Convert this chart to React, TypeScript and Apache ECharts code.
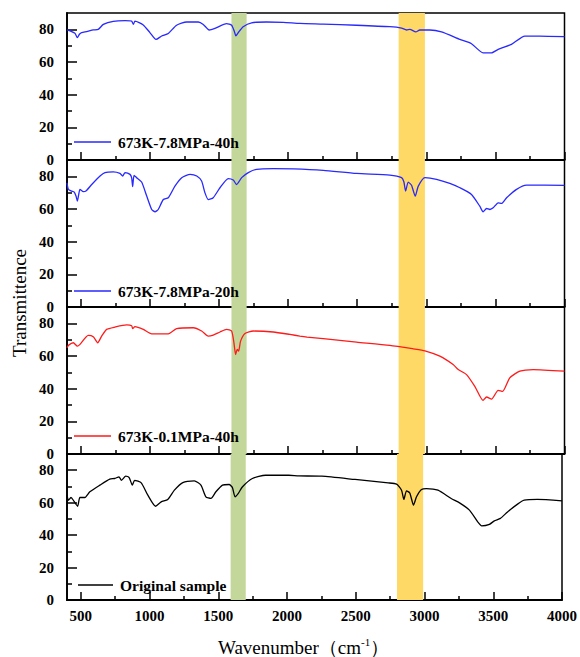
import React, { useEffect, useRef } from "react";
import * as echarts from "echarts";

const seriesNames = ["673K-7.8MPa-40h", "673K-7.8MPa-20h", "673K-0.1MPa-40h", "Original sample"];
const seriesColors = ["#2828ff", "#2828ff", "#ff1a1a", "#000000"];

const spec40h: [number, number][] = [
  [400, 79.6], [434, 78.6], [458, 77.5], [475, 74.9], [490, 77], [506, 78], [542, 78.6], [590, 79.6], [626, 80],
  [663, 83], [735, 84.9], [820, 85.3], [868, 85], [880, 83], [892, 85], [952, 82.7], [1000, 78], [1044, 73.8],
  [1085, 75.9], [1133, 77.5], [1193, 82.5], [1266, 84.5], [1350, 84.5], [1386, 83], [1429, 79.6], [1470, 80.6],
  [1555, 83.5], [1591, 82.5], [1610, 79], [1622, 76], [1639, 78], [1675, 81.6], [1736, 84], [1844, 84.5],
  [1965, 84.3], [2085, 83.6], [2254, 83.2], [2495, 82.5], [2736, 81.6], [2821, 80.8], [2857, 79.6], [2881, 80],
  [2924, 78.4], [2953, 79.6], [3026, 79.6], [3110, 78.4], [3243, 73.8], [3327, 71.2], [3411, 65.6], [3472, 65.6],
  [3520, 67.7], [3616, 70.8], [3713, 75.9], [3821, 75.9], [4000, 75.5],
];

const spec20h: [number, number][] = [
  [400, 76], [410, 72], [434, 71], [451, 70.5], [465, 68], [475, 64.8], [485, 69], [494, 72], [518, 70.6],
  [537, 71], [579, 75], [639, 80.2], [675, 82.3], [735, 82.7], [783, 81.8], [803, 80.2], [820, 82.3], [856, 81.2],
  [868, 79], [875, 73.7], [885, 80.6], [904, 79.2], [940, 76.5], [977, 67.9], [1013, 59.7], [1037, 58.3],
  [1060, 59.7], [1097, 65.8], [1133, 66.9], [1181, 74], [1230, 79.2], [1291, 81.2], [1339, 80.2], [1374, 77.1],
  [1398, 70], [1422, 65.8], [1458, 66.9], [1507, 73], [1567, 78.6], [1603, 77.7], [1627, 75], [1664, 79.2],
  [1712, 82.3], [1772, 84.3], [1893, 84.7], [2041, 84.6], [2254, 83.7], [2495, 81.8], [2736, 80.8], [2821, 79.2],
  [2838, 76.5], [2850, 71], [2869, 76.5], [2893, 74.5], [2920, 67.9], [2942, 74], [2990, 79.2], [3074, 78.2],
  [3170, 75.7], [3243, 73], [3327, 68.9], [3387, 61.7], [3411, 58.3], [3436, 60.3], [3460, 59.7], [3484, 60.7],
  [3520, 63.8], [3544, 63.4], [3581, 66.9], [3653, 72], [3725, 74.6], [4000, 74.5],
];

const spec01MPa: [number, number][] = [
  [400, 65], [410, 66.5], [446, 68.1], [475, 66], [494, 67.1], [554, 72.6], [590, 71.8], [622, 68.1], [651, 72.2],
  [687, 76.3], [747, 77.7], [832, 79], [868, 78.5], [875, 76.7], [892, 78], [952, 76.3], [1013, 73.6], [1133, 73.6],
  [1193, 76.7], [1314, 77.3], [1374, 75.3], [1422, 72.2], [1458, 72.8], [1507, 74.7], [1555, 76.3], [1591, 75.3],
  [1608, 68.1], [1620, 60.9], [1632, 64], [1642, 63], [1656, 69.1], [1688, 73.8], [1748, 75.3], [1893, 74.7],
  [2013, 73.2], [2085, 72.2], [2137, 71.6], [2254, 70.6], [2495, 68.5], [2736, 66.5], [2905, 64.4], [2990, 63.2],
  [3098, 59.9], [3194, 54.8], [3231, 51.7], [3291, 48.6], [3351, 41.4], [3411, 32.8], [3436, 34.9], [3472, 33.6],
  [3520, 39], [3552, 38.3], [3604, 46.6], [3677, 50.7], [3773, 51.7], [4000, 50.7],
];

const specOriginal: [number, number][] = [
  [400, 64.6], [410, 61.5], [429, 63.2], [450, 61], [477, 57.8], [494, 63.2], [530, 63.2], [566, 66.7], [639, 70.8],
  [711, 74.5], [747, 74.9], [778, 75.9], [796, 73.8], [827, 76.3], [852, 75.5], [875, 70.8], [892, 73.8], [940, 72.2],
  [988, 64.6], [1044, 57.8], [1085, 60.5], [1133, 62], [1181, 67.7], [1242, 72.4], [1326, 73.4], [1374, 70.8],
  [1410, 63.6], [1447, 62.6], [1483, 66.7], [1531, 70.8], [1579, 71.2], [1603, 69.3], [1622, 63.6], [1646, 65.7],
  [1675, 69.7], [1748, 74.9], [1844, 76.9], [2013, 76.9], [2085, 76.5], [2254, 76.3], [2495, 74.3], [2736, 72.2],
  [2797, 71.4], [2833, 67.7], [2850, 62], [2869, 67.3], [2893, 66], [2920, 58.5], [2942, 63.6], [2978, 68.1],
  [3014, 68.7], [3098, 67.7], [3194, 62.6], [3255, 59.9], [3327, 55.4], [3387, 48.2], [3416, 45.7], [3472, 46.6],
  [3508, 48.8], [3552, 50.3], [3604, 54.3], [3677, 59.1], [3725, 61.5], [3821, 62], [4000, 61.1],
];

const allSpectra = [spec40h, spec20h, spec01MPa, specOriginal];

const greenBand = [1590, 1700];
const orangeBand = [2800, 2990];

const xMajorTicks = [500, 1000, 1500, 2000, 2500, 3000, 3500, 4000];
const xMinorTicks = [750, 1250, 1750, 2250, 2750, 3250, 3750];
const yMajorTicks = [0, 20, 40, 60, 80];
const yMinorTicks = [10, 30, 50, 70];

const FONT = "Liberation Serif";

export default function App() {
  const ref = useRef<HTMLDivElement>(null);
  useEffect(() => {
    if (!ref.current) return;
    const chart = echarts.init(ref.current, undefined, { renderer: "svg" });

    const gridTops = [13, 160, 307, 454];
    const gridHeights = [147, 147, 147, 146];
    const legendTops = [134, 283, 428, 577];
    const legendLefts = [74, 74, 74, 78];

    const grids: any[] = [];
    const xAxes: any[] = [];
    const yAxes: any[] = [];
    const series: any[] = [];
    const legends: any[] = [];

    for (let i = 0; i < 4; i++) {
      grids.push({
        left: 67,
        width: 497.5,
        top: gridTops[i],
        height: gridHeights[i],
        show: true,
        borderColor: "#000",
        borderWidth: 1.5,
        backgroundColor: "transparent",
      });
      xAxes.push({
        type: "value",
        gridIndex: i,
        min: 400,
        max: 4000,
        position: "bottom",
        axisLine: { show: true, lineStyle: { color: "#000", width: 1.8 } },
        axisTick: { show: true, inside: true, length: 8, customValues: xMajorTicks, lineStyle: { color: "#000", width: 1.5 } },
        axisLabel: {
          show: i === 3,
          customValues: xMajorTicks,
          formatter: (v: number) => String(v),
          color: "#000",
          fontFamily: FONT,
          fontWeight: "bold",
          fontSize: 15,
          margin: 8,
        },
        splitLine: { show: false },
      });
      xAxes.push({
        type: "value",
        gridIndex: i,
        min: 400,
        max: 4000,
        position: "bottom",
        axisLine: { show: false },
        axisTick: { show: true, inside: true, length: 4, customValues: xMinorTicks, lineStyle: { color: "#000", width: 1.5 } },
        axisLabel: { show: false },
        splitLine: { show: false },
      });
      yAxes.push({
        type: "value",
        gridIndex: i,
        min: 0,
        max: 90,
        position: "left",
        axisLine: { show: true, lineStyle: { color: "#000", width: 1.8 } },
        axisTick: { show: true, inside: true, length: 10, customValues: yMajorTicks, lineStyle: { color: "#000", width: 1.5 } },
        axisLabel: {
          customValues: yMajorTicks,
          formatter: (v: number) => String(v),
          color: "#000",
          fontFamily: FONT,
          fontWeight: "bold",
          fontSize: 15,
          margin: 13,
        },
        splitLine: { show: false },
      });
      yAxes.push({
        type: "value",
        gridIndex: i,
        min: 0,
        max: 90,
        position: "left",
        offset: 0,
        axisLine: { show: false },
        axisTick: { show: true, inside: true, length: 5, customValues: yMinorTicks, lineStyle: { color: "#000", width: 1.5 } },
        axisLabel: { show: false },
        splitLine: { show: false },
      });
      series.push({
        type: "line",
        name: seriesNames[i],
        xAxisIndex: 2 * i,
        yAxisIndex: 2 * i,
        data: allSpectra[i],
        symbol: "none",
        showSymbol: false,
        smooth: 0.2,
        lineStyle: { color: seriesColors[i], width: 1.3 },
        itemStyle: { color: seriesColors[i] },
        markArea: {
          silent: true,
          itemStyle: { opacity: 1 },
          data: [
            [{ xAxis: greenBand[0], itemStyle: { color: "#c4d79b" } }, { xAxis: greenBand[1] }],
            [{ xAxis: orangeBand[0], itemStyle: { color: "#ffd966" } }, { xAxis: orangeBand[1] }],
          ],
        },
        z: 3,
      });
      legends.push({
        data: [seriesNames[i]],
        left: legendLefts[i],
        top: legendTops[i],
        padding: 0,
        icon: "rect",
        itemWidth: i === 3 ? 35 : 37,
        itemHeight: 1.4,
        textStyle: { color: "#000", fontFamily: FONT, fontWeight: "bold", fontSize: 15.5, padding: [0, 0, 0, 2] },
        selectedMode: false,
      });
    }

    chart.setOption({
      animation: false,
      backgroundColor: "#fff",
      grid: grids,
      xAxis: xAxes,
      yAxis: yAxes,
      series,
      legend: legends,
      graphic: [
        {
          type: "text",
          x: 19.5,
          y: 303,
          rotation: Math.PI / 2,
          style: {
            text: "Transmittence",
            font: `19px ${FONT}`,
            fill: "#000",
            align: "center",
            verticalAlign: "middle",
          },
        },
        {
          type: "text",
          x: 218,
          y: 647,
          style: {
            text: "{a|Wavenumber（cm}{s|-1}{a|）}",
            fill: "#000",
            align: "left",
            verticalAlign: "middle",
            rich: {
              a: { fontSize: 19, fontFamily: FONT, color: "#000", lineHeight: 22 },
              s: { fontSize: 11, fontFamily: FONT, color: "#000", verticalAlign: "top", lineHeight: 22, padding: [0, 0, 8, 0] },
            },
          },
        },
      ],
    });

    return () => chart.dispose();
  }, []);

  return (
    <div
      ref={ref}
      style={{ position: "absolute", left: 0, top: 0, width: 580, height: 657, background: "#fff" }}
    />
  );
}
